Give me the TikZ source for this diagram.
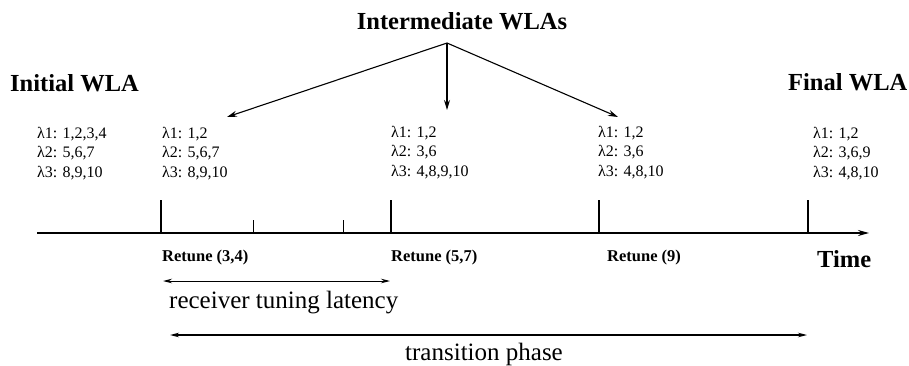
\documentclass[tikz,border=0pt]{standalone}
\usepackage{fontspec}
\setmainfont{Liberation Serif}
\usetikzlibrary{arrows.meta}
\begin{document}
\begin{tikzpicture}[x=1pt,y=-1pt,
  heading/.style={font=\fontsize{24.5}{28}\selectfont\bfseries, inner sep=0pt},
  wla/.style={font=\fontsize{16}{19.5}\selectfont, inner sep=0pt, anchor=north west, align=left},
  retune/.style={font=\fontsize{16.5}{19}\selectfont\bfseries, inner sep=0pt, anchor=base west},
  caption/.style={font=\fontsize{25}{30}\selectfont, inner sep=0pt, anchor=base west},
  axis/.style={line width=1.6pt, -{Stealth[length=11pt,width=6pt]}},
  major/.style={line width=2.6pt},
  minor/.style={line width=1pt},
  pointer/.style={line width=1.1pt, -{Stealth[length=10pt,width=6pt]}},
  span/.style={line width=1pt, {Stealth[length=9pt,width=4.5pt]}-{Stealth[length=9pt,width=4.5pt]}},
]
\useasboundingbox (0,0) rectangle (909,366);

% headings
\node[heading, anchor=base] (inter) at (462,30) {Intermediate WLAs};
\node[heading, anchor=base west] (init) at (10,92) {Initial WLA};
\node[heading, anchor=base west] (final) at (788,91) {Final WLA};

% wavelength assignments
\node[wla] (w1) at (37,127) {λ1: 1,2,3,4\\λ2: 5,6,7\\λ3: 8,9,10};
\node[wla] (w2) at (162,127) {λ1: 1,2\\λ2: 5,6,7\\λ3: 8,9,10};
\node[wla] (w3) at (391,126) {λ1: 1,2\\λ2: 3,6\\λ3: 4,8,9,10};
\node[wla] (w4) at (598,126) {λ1: 1,2\\λ2: 3,6\\λ3: 4,8,10};
\node[wla] (w5) at (813,127) {λ1: 1,2\\λ2: 3,6,9\\λ3: 4,8,10};

% arrows from the intermediate heading
\coordinate (apex) at (447,43);
\coordinate (p2) at (227,117);
\coordinate (p3) at (447,110);
\coordinate (p4) at (618,117);
\draw[pointer] (apex) -- (p2);
\draw[pointer] (apex) -- (p3);
\draw[pointer] (apex) -- (p4);

% time axis
\coordinate (origin) at (37,233);
\coordinate (tend) at (869,233);
\draw[axis] (origin) -- (tend);
\node[heading, anchor=base west] (time) at (817,267) {Time};

% ticks
\coordinate (t1) at (161,233);
\coordinate (t2) at (391,233);
\coordinate (t3) at (599,233);
\coordinate (t4) at (808,233);
\coordinate (m1) at (253,233);
\coordinate (m2) at (343,233);
\foreach \t in {t1,t2,t3,t4} \draw[major] (\t) -- ++(0,-33);
\foreach \t in {m1,m2} \draw[minor] (\t) -- ++(0,-13);

% retune labels
\node[retune] (r1) at (162,261) {Retune (3,4)};
\node[retune] (r2) at (391,261) {Retune (5,7)};
\node[retune] (r3) at (607,261) {Retune (9)};

% spans
\coordinate (l1) at (163,281);
\coordinate (l2) at (390,281);
\draw[span] (l1) -- (l2);
\node[caption] (lat) at (169,308) {receiver tuning latency};

\coordinate (q1) at (170,335);
\coordinate (q2) at (807,335);
\draw[span, line width=1.3pt] (q1) -- (q2);
\node[caption] (phase) at (405,360) {transition phase};
\end{tikzpicture}
\end{document}
